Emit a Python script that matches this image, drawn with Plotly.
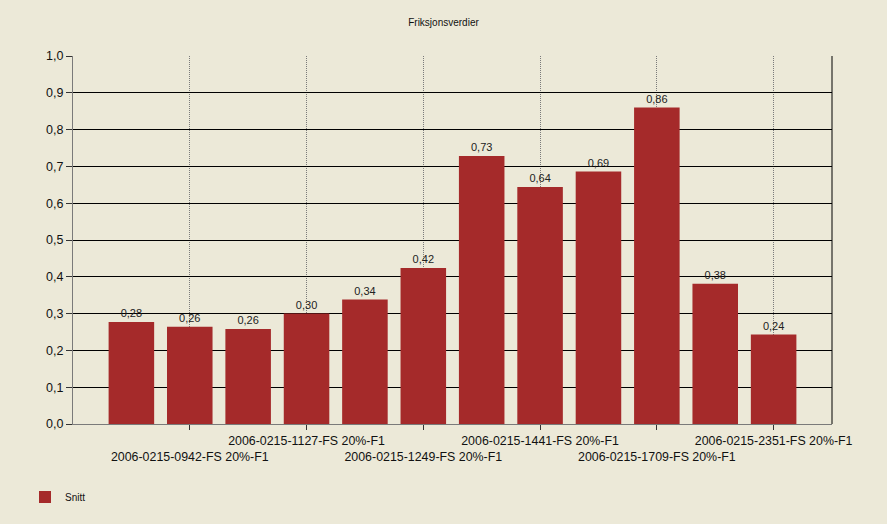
import plotly.graph_objects as go

title = "Friksjonsverdier"
positions = [1, 2, 3, 4, 5, 6, 7, 8, 9, 10, 11, 12]
values = [0.277, 0.264, 0.258, 0.300, 0.338, 0.424, 0.728, 0.644, 0.686, 0.860, 0.381, 0.243]
tick_positions = [2, 4, 6, 8, 10, 12]
tick_labels = [
    "2006-0215-0942-FS 20%-F1",
    "2006-0215-1127-FS 20%-F1",
    "2006-0215-1249-FS 20%-F1",
    "2006-0215-1441-FS 20%-F1",
    "2006-0215-1709-FS 20%-F1",
    "2006-0215-2351-FS 20%-F1",
]
y_ticks = [0.0, 0.1, 0.2, 0.3, 0.4, 0.5, 0.6, 0.7, 0.8, 0.9, 1.0]
series_name = "Snitt"

BG = "#ECE9D8"
BAR = "#A52A2A"
FONT = "Liberation Sans, Arial, sans-serif"

# staggered tick labels: alternate second row / first row
staggered = [(" <br>" + t) if i % 2 == 0 else (t + "<br> ") for i, t in enumerate(tick_labels)]

fig = go.Figure()
fig.add_trace(go.Bar(
    x=positions, y=values, name=series_name,
    marker=dict(color=BAR, line=dict(width=0)),
    width=0.78,
    texttemplate="%{y:.2f}", textposition="outside",
    textfont=dict(size=11, color="#222222", family=FONT),
    cliponaxis=False,
    showlegend=True,
))

fig.update_layout(
    width=887, height=524,
    paper_bgcolor=BG, plot_bgcolor=BG,
    separators=", ",
    margin=dict(l=73, r=55, t=56, b=100, autoexpand=False),
    font=dict(family=FONT, size=12, color="#111111"),
    title=dict(text=title, x=0.5, xanchor="center", y=1 - 22 / 524, yanchor="middle",
               font=dict(size=10, family=FONT, color="#111111")),
    showlegend=True,
    legend=dict(orientation="h", xref="container", yref="container",
                x=25 / 887, y=1 - 497 / 524, xanchor="left", yanchor="middle",
                font=dict(size=10, family=FONT), bgcolor="rgba(0,0,0,0)"),
    bargap=0.2,
    xaxis=dict(
        range=[0, 13], tickmode="array", tickvals=tick_positions, ticktext=staggered,
        tickangle=0, automargin=False,
        showgrid=True, gridcolor="#7a7a7a", griddash="1px,1px", gridwidth=1,
        showline=True, linecolor="#7a7a7a", linewidth=1,
        ticks="outside", ticklen=5, tickcolor="#333333",
        tickfont=dict(size=12.4, family=FONT), zeroline=False,
    ),
    yaxis=dict(
        range=[0, 1.0], tickmode="array", tickvals=y_ticks, tickformat=".1f",
        automargin=False,
        showgrid=True, gridcolor="#000000", gridwidth=1,
        showline=True, linecolor="#7a7a7a", linewidth=1,
        ticks="outside", ticklen=6, tickcolor="#333333",
        tickfont=dict(size=12.5, family=FONT), zeroline=False,
    ),
    shapes=[dict(type="line", xref="paper", yref="paper", x0=1, x1=1, y0=0, y1=1,
                 line=dict(color="#000000", width=1))],
)

fig.write_html("out.html")
